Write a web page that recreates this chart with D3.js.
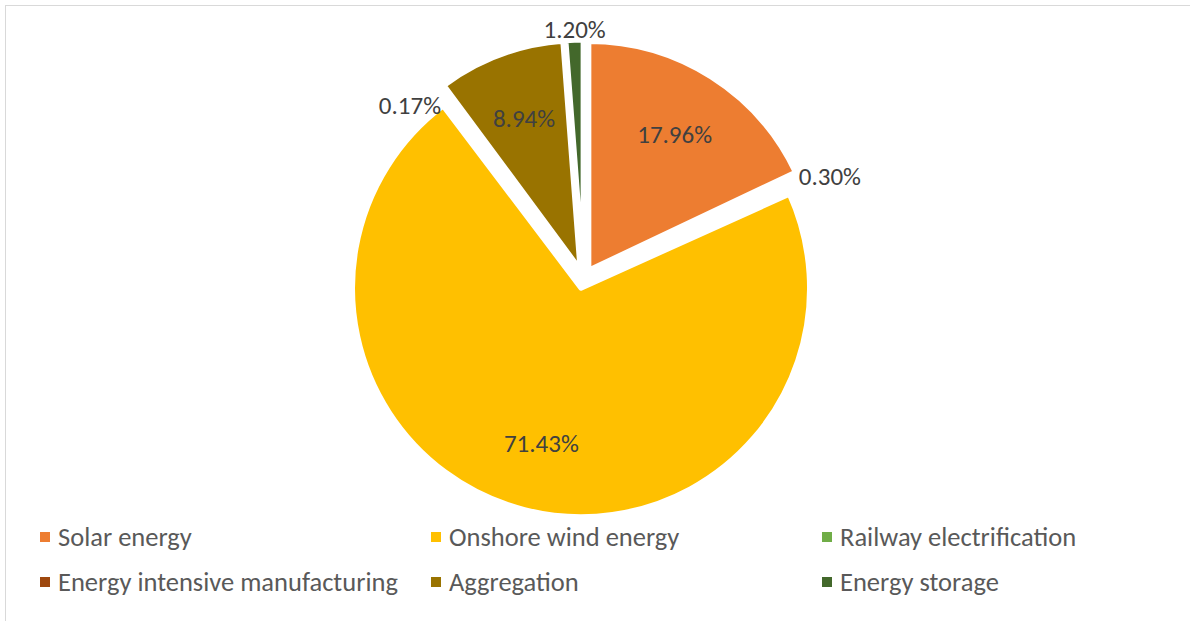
<!DOCTYPE html>
<html>
<head>
<meta charset="utf-8">
<script src="https://cdn.jsdelivr.net/npm/d3@7"></script>
<style>
  html, body { margin: 0; padding: 0; background: #fff; }
  svg { display: block; }
</style>
</head>
<body>
<svg id="chart" width="1190" height="621"></svg>
<script>
// Investment shares by sector
const categories = [
  "Solar energy",
  "Railway electrification",
  "Onshore wind energy",
  "Energy intensive manufacturing",
  "Aggregation",
  "Energy storage"
];
const shares = [17.96, 0.30, 71.43, 0.17, 8.94, 1.20];
const colors = ["#ED7D31", "#70AD47", "#FFC000", "#9E480E", "#997300", "#43682B"];
// Legend reading order (rows of three)
const legendOrder = [
  "Solar energy", "Onshore wind energy", "Railway electrification",
  "Energy intensive manufacturing", "Aggregation", "Energy storage"
];

const W = 1190, H = 621;
const svg = d3.select("#chart");
const font = "Calibri, Carlito, Lato, 'Open Sans', sans-serif";

// chart area frame (only the top and left edges fall inside the window)
svg.append("rect")
  .attr("x", 5.5).attr("y", 5.5)
  .attr("width", W + 20).attr("height", H + 20)
  .attr("fill", "#fff").attr("stroke", "#d9d9d9").attr("stroke-width", 1);

// slices carry a white border; the outer radius includes half of it
const border = 5;
const cx = 583.5, cy = 278.5, radius = 226 + border / 2, explode = 10;

const color = d3.scaleOrdinal().domain(categories).range(colors);
const data = categories.map((c, i) => ({ name: c, value: shares[i] }));

const pie = d3.pie().value(d => d.value).sort(null);
const arc = d3.arc().innerRadius(0).outerRadius(radius);
const arcs = pie(data);

const g = svg.append("g").attr("transform", `translate(${cx},${cy})`);

function mid(a) { return (a.startAngle + a.endAngle) / 2; }

const slices = g.selectAll("g.slice").data(arcs).join("g")
  .attr("class", "slice")
  .attr("transform", a => {
    const m = mid(a);
    return `translate(${explode * Math.sin(m)},${-explode * Math.cos(m)})`;
  });

slices.append("path")
  .attr("d", arc)
  .attr("fill", a => color(a.data.name))
  .attr("stroke", "#fff")
  .attr("stroke-width", border)
  .attr("stroke-linejoin", "round");

// value labels: large slices inside, small slices just outside the rim
const fmt = v => v.toFixed(2) + "%";
const labelSize = 25;
const rim = radius - border / 2;
slices.each(function(a) {
  const m = mid(a);
  const s = Math.sin(m), c = -Math.cos(m);
  const t = d3.select(this).append("text")
    .attr("text-anchor", "middle")
    .attr("dominant-baseline", "central")
    .attr("font-family", font)
    .attr("font-size", labelSize)
    .attr("fill", "#404040")
    .text(fmt(a.data.value));
  let x, y;
  if (a.data.value > 5) {
    const R = rim * 0.71;
    x = R * s; y = R * c;
  } else {
    const bb = t.node().getBBox();
    x = rim * s; y = rim * c;
    if (Math.abs(s) > 0.5) {
      // box sits beside the rim point, on the outer side
      x += Math.sign(s) * (bb.width / 2 + 1);
      y += s < 0 ? bb.height * 0.5 : -bb.height * 0.1;
    } else {
      // box sits just above or below the rim point
      y += Math.sign(c) * (bb.height / 2 - 2);
    }
  }
  t.attr("x", x).attr("y", y);
});

// legend: three columns, two rows
const colX = d3.scalePoint().domain([0, 1, 2]).range([40, 822]);
const rowY = d3.scalePoint().domain([0, 1]).range([537, 582]);
const legend = svg.append("g");
legendOrder.forEach((name, i) => {
  const x = colX(i % 3), y = rowY(Math.floor(i / 3));
  legend.append("rect")
    .attr("x", x).attr("y", y - 5)
    .attr("width", 10).attr("height", 10)
    .attr("fill", color(name));
  legend.append("text")
    .attr("x", x + 18).attr("y", y)
    .attr("dominant-baseline", "central")
    .attr("font-family", font)
    .attr("font-size", 26.5)
    .attr("fill", "#595959")
    .text(name);
});
</script>
</body>
</html>
